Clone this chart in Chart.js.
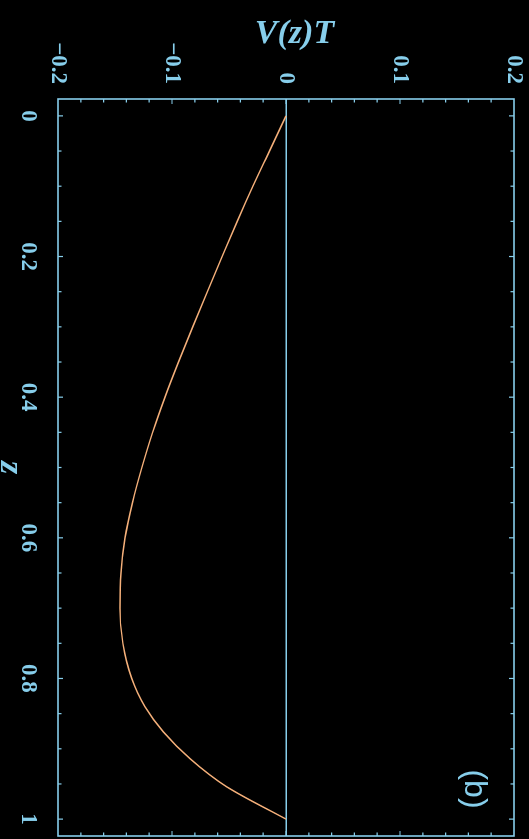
<!DOCTYPE html>
<html><head><meta charset="utf-8">
<script src="https://cdn.jsdelivr.net/npm/chart.js@4"></script>
<style>
html,body{margin:0;padding:0;background:#000;overflow:hidden;width:529px;height:839px}
#wrap{position:absolute;left:0;top:0;width:839px;height:529px;transform-origin:0 0;transform:translate(529px,0) rotate(90deg);}
canvas{display:block}
</style></head><body>
<div id="wrap"><canvas id="c" width="839" height="529"></canvas></div>
<script>
// ---- data ----
const zValues = [0,0.05,0.1,0.15,0.2,0.25,0.3,0.35,0.4,0.45,0.5,0.55,0.6,0.65,0.7,0.75,0.8,0.84,0.876,0.914,0.954,1];
const vValues = [0,-0.0145,-0.029,-0.0428,-0.056,-0.069,-0.0818,-0.0943,-0.1062,-0.117,-0.1264,-0.1347,-0.1412,-0.1448,-0.1456,-0.1431,-0.1353,-0.1238,-0.1076,-0.0842,-0.052,0];
const zTickValues = [0,0.2,0.4,0.6,0.8,1];
const zTickLabels = ['0','0.2','0.4','0.6','0.8','1'];
const vTickValues = [-0.2,-0.1,0,0.1,0.2];
const vTickLabels = ['\u22120.2','\u22120.1','0','0.1','0.2'];
const xTitle = 'z';
const yTitle = '\u2002V(z)T';
const panelLabel = '(b)';

const AX = '#87CEEB';
const CURVE = '#F5B07A';

const framePlugin = {
  id: 'frame',
  afterDatasetsDraw(chart) {
    const {ctx, chartArea: a, scales: {x, y}} = chart;
    ctx.save();
    ctx.strokeStyle = AX;
    ctx.lineWidth = 1.6;
    ctx.strokeRect(a.left, a.top, a.right - a.left, a.bottom - a.top);
    ctx.lineWidth = 1.2;
    ctx.beginPath();
    for (let i = 0; i <= 20; i++) {
      const px = x.getPixelForValue(i * 0.05);
      const L = (i % 4 === 0) ? 5 : 3.5;
      ctx.moveTo(px, a.bottom); ctx.lineTo(px, a.bottom - L);
      ctx.moveTo(px, a.top); ctx.lineTo(px, a.top + L);
    }
    for (let i = -9; i <= 9; i++) {
      const py = y.getPixelForValue(i * 0.02);
      const L = (i % 5 === 0) ? 5 : 3.5;
      ctx.moveTo(a.left, py); ctx.lineTo(a.left + L, py);
      ctx.moveTo(a.right, py); ctx.lineTo(a.right - L, py);
    }
    ctx.stroke();
    ctx.fillStyle = AX;
    ctx.font = '32px "Liberation Sans"';
    ctx.textAlign = 'center';
    ctx.textBaseline = 'middle';
    ctx.fillText(panelLabel, a.right - 47, a.top + 40);
    ctx.restore();
  }
};

new Chart(document.getElementById('c'), {
  type: 'line',
  data: {
    datasets: [{
      data: zValues.map((z, i) => ({x: z, y: vValues[i]})),
      borderColor: CURVE,
      borderWidth: 1.5,
      pointRadius: 0,
      cubicInterpolationMode: 'monotone',
      fill: false
    }]
  },
  options: {
    responsive: false,
    animation: false,
    devicePixelRatio: 1,
    layout: {padding: {top: 15, right: 3, left: 0, bottom: 0}},
    plugins: {legend: {display: false}, tooltip: {enabled: false}},
    scales: {
      x: {
        type: 'linear',
        min: -0.024, max: 1.024,
        afterBuildTicks: s => { s.ticks = zTickValues.map(v => ({value: v})); },
        afterFit: s => { s.height = 58; s.paddingLeft = 0; s.paddingRight = 0; },
        grid: {display: false},
        border: {display: false},
        ticks: {
          color: AX, padding: 8, maxRotation: 0, autoSkip: false,
          font: {family: 'Liberation Serif', weight: 'bold', size: 23},
          callback: v => zTickLabels[zTickValues.indexOf(v)]
        },
        title: {
          display: true, text: xTitle, color: AX,
          font: {family: 'Liberation Serif', style: 'italic', weight: 'bold', size: 34, lineHeight: 0.6},
          padding: {top: 0, bottom: 0}
        }
      },
      y: {
        type: 'linear',
        min: -0.2, max: 0.2,
        afterBuildTicks: s => { s.ticks = vTickValues.map(v => ({value: v})); },
        afterFit: s => { s.width = 99; s.paddingTop = 0; s.paddingBottom = 0; },
        grid: {
          drawTicks: false,
          lineWidth: 1.5,
          color: c => (c.tick && c.tick.value === 0) ? AX : 'rgba(0,0,0,0)'
        },
        border: {display: false},
        ticks: {
          color: AX, padding: 15, autoSkip: false,
          font: {family: 'Liberation Serif', weight: 'bold', size: 23},
          callback: v => vTickLabels[vTickValues.indexOf(v)]
        },
        title: {
          display: true, text: yTitle, color: AX,
          font: {family: 'Liberation Serif', style: 'italic', weight: 'bold', size: 34, lineHeight: 1},
          padding: {top: 17, bottom: 0}
        }
      }
    }
  },
  plugins: [framePlugin]
});
</script>
</body></html>
